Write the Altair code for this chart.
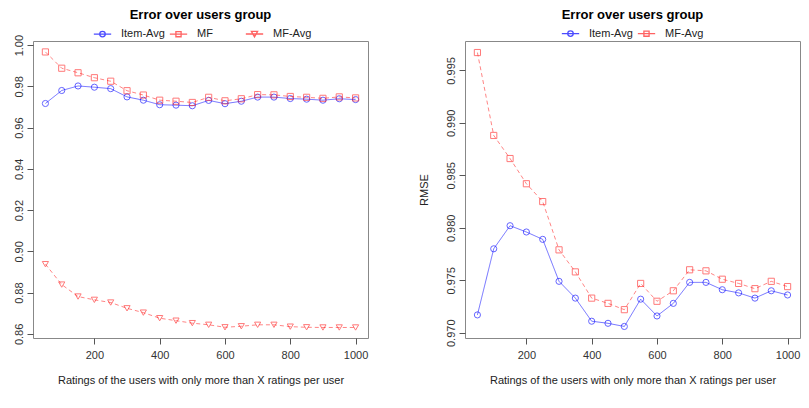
import altair as alt
import pandas as pd

# ---- data ----
x_vals = [50, 100, 150, 200, 250, 300, 350, 400, 450, 500,
          550, 600, 650, 700, 750, 800, 850, 900, 950, 1000]
item_avg = [0.9717, 0.9780, 0.9802, 0.9796, 0.9789, 0.9749, 0.9733, 0.9711, 0.9709, 0.9706,
            0.9732, 0.9716, 0.9728, 0.9748, 0.9748, 0.9741, 0.9738, 0.9733, 0.9740, 0.9736]
mf = [0.9967, 0.9888, 0.9866, 0.9842, 0.9825, 0.9779, 0.9758, 0.9733, 0.9728, 0.9722,
      0.9747, 0.9730, 0.9740, 0.9760, 0.9759, 0.9751, 0.9747, 0.9742, 0.9749, 0.9744]
mf_avg = [0.8938, 0.8839, 0.8781, 0.8765, 0.8752, 0.8724, 0.8703, 0.8676, 0.8664, 0.8652,
          0.8644, 0.8632, 0.8637, 0.8644, 0.8644, 0.8635, 0.8632, 0.8631, 0.8631, 0.8631]

left_names = ["Item-Avg", "MF", "MF-Avg"]
right_names = ["Item-Avg", "MF-Avg"]
x_ticks = [200, 400, 600, 800, 1000]
left_y_ticks = [0.86, 0.88, 0.90, 0.92, 0.94, 0.96, 0.98, 1.00]
right_y_ticks = [0.970, 0.975, 0.980, 0.985, 0.990, 0.995]
title_text = "Error over users group"
x_title = "Ratings of the users with only more than X ratings per user"

FONT = "Liberation Sans"
BLUE = "#0000ff"
RED = "#ff2020"

LINE_PATH = "M-1,0L1,0"
CIRCLE_PATH = LINE_PATH + "M-0.32,0A0.32,0.32 0 1,0 0.32,0A0.32,0.32 0 1,0 -0.32,0Z"
SQUARE_PATH = LINE_PATH + "M-0.3,-0.3L0.3,-0.3L0.3,0.3L-0.3,0.3Z"
TRI_PATH = LINE_PATH + "M-0.36,-0.3L0.36,-0.3L0,0.34Z"

style = {
    "Item-Avg": dict(color=BLUE, dash=[1, 0], shape="circle", path=CIRCLE_PATH),
    "MF": dict(color=RED, dash=[4, 3], shape="square", path=SQUARE_PATH),
    "MF-Avg": dict(color=RED, dash=[4, 3], shape="triangle-down", path=TRI_PATH),
}


def make_df(names, series):
    rows = []
    for n, vals in zip(names, series):
        for xv, yv in zip(x_vals, vals):
            rows.append({"x": xv, "y": yv, "series": n})
    return pd.DataFrame(rows)


def panel(df, names, styles, y_domain, y_ticks, y_fmt, y_title, legend_x):
    xenc = alt.X("x:Q", scale=alt.Scale(domain=[12, 1038], nice=False, zero=False),
                 axis=alt.Axis(values=x_ticks, title=x_title, format="d"))
    yaxis = alt.Axis(values=y_ticks, format=y_fmt, labelAngle=-90, labelAlign="center",
                     labelBaseline="bottom", title=y_title if y_title else None)
    yenc = alt.Y("y:Q", scale=alt.Scale(domain=y_domain, nice=False, zero=False), axis=yaxis)
    layers = []
    for n, st in zip(names, styles):
        sub = df[df["series"] == n]
        base = alt.Chart(sub)
        layers.append(base.mark_line(color=st["color"], strokeWidth=1, opacity=0.55,
                                     strokeDash=st["dash"]).encode(x=xenc, y=yenc))
        layers.append(base.mark_point(color=st["color"], shape=st["shape"], filled=False,
                                      size=38, strokeWidth=1, opacity=0.6).encode(x=xenc, y=yenc))
    leg = alt.Chart(df).mark_point(filled=False, strokeWidth=1.2).encode(
        color=alt.Color("series:N",
                        scale=alt.Scale(domain=names, range=[s["color"] for s in styles]),
                        legend=alt.Legend(orient="none", legendX=legend_x, legendY=-17,
                                          direction="horizontal", columns=len(names),
                                          gridAlign="all", title=None, symbolSize=300,
                                          symbolStrokeWidth=1.3, labelFontSize=11,
                                          labelFont=FONT, labelColor="#222",
                                          labelOffset=9, columnPadding=2)),
        shape=alt.Shape("series:N",
                        scale=alt.Scale(domain=names, range=[s["path"] for s in styles])),
    ).transform_filter("datum.x < 0")
    layers.append(leg)
    return alt.layer(*layers).properties(
        width=335, height=297,
        title=alt.TitleParams(title_text, anchor="middle", frame="group", fontSize=13,
                              font=FONT, fontWeight="bold", color="#000", offset=2),
    )


left_df = make_df(left_names, [item_avg, mf, mf_avg])
right_df = make_df(right_names, [item_avg, mf])

left = panel(left_df, left_names, [style[n] for n in left_names],
             [0.858, 1.002], left_y_ticks, ".2f", None, 60)
right = panel(right_df, right_names, [style["Item-Avg"], style["MF"]],
              [0.9695, 0.9978], right_y_ticks, ".3f", "RMSE", 96)

chart = alt.hconcat(left, right, spacing=48).resolve_scale(
    color="independent", shape="independent"
).resolve_legend(color="independent", shape="independent").properties(
    padding={"left": 12, "top": 8, "right": 5, "bottom": 5},
    background="white",
).configure_view(stroke="#888", strokeWidth=1).configure_axis(
    grid=False, domain=False, tickColor="#555", tickSize=6, labelFont=FONT,
    labelFontSize=11, labelColor="#333", titleFont=FONT, titleFontSize=11,
    titleFontWeight="normal", titleColor="#222", labelPadding=3,
).configure_axisX(titlePadding=14, labelPadding=5).configure_axisY(titlePadding=16)

chart.save("out.html", embed_options={"renderer": "svg", "actions": False})
